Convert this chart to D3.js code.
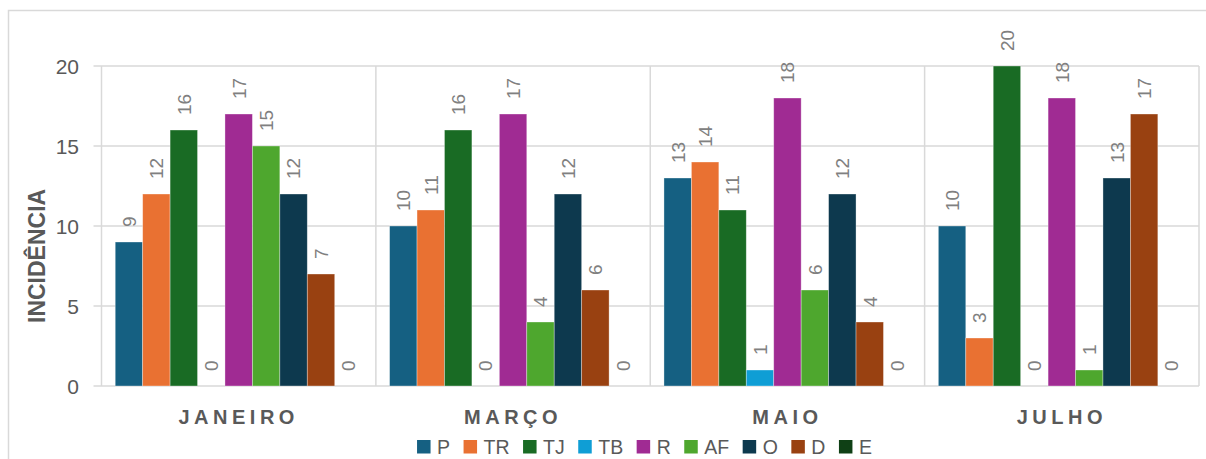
<!DOCTYPE html>
<html>
<head>
<meta charset="utf-8">
<script src="https://cdn.jsdelivr.net/npm/d3@7"></script>
<style>
  html, body { margin: 0; padding: 0; background: #fff; }
  svg { display: block; font-family: "Liberation Sans", Arial, sans-serif; }
</style>
</head>
<body>
<svg id="chart" width="1206" height="459"></svg>
<script>
// Months shown on the x axis
const months = ["JANEIRO", "MARÇO", "MAIO", "JULHO"];
// Series (one bar per series inside each month)
const seriesNames = ["P", "TR", "TJ", "TB", "R", "AF", "O", "D", "E"];
const seriesColors = ["#156082", "#E97132", "#196B24", "#0F9ED5", "#A02B93", "#4EA72E", "#0D394E", "#994111", "#0F4015"];
// Values per series, in month order
const valP  = [9, 10, 13, 10];
const valTR = [12, 11, 14, 3];
const valTJ = [16, 16, 11, 20];
const valTB = [0, 0, 1, 0];
const valR  = [17, 17, 18, 18];
const valAF = [15, 4, 6, 1];
const valO  = [12, 12, 12, 13];
const valD  = [7, 6, 4, 17];
const valE  = [0, 0, 0, 0];
const yTicks = [0, 5, 10, 15, 20];
const yTitle = "INCIDÊNCIA";

const seriesValues = [valP, valTR, valTJ, valTB, valR, valAF, valO, valD, valE];

const svg = d3.select("#chart");
const gridColor = "#d9d9d9";
const textColor = "#595959";

// outer frame
svg.append("rect")
  .attr("x", 8.5).attr("y", 10.5)
  .attr("width", 1300).attr("height", 500)
  .attr("fill", "none").attr("stroke", gridColor).attr("stroke-width", 1.5);

const plotLeft = 101.5, plotRight = 1199, plotTop = 66, plotBottom = 386;

const x0 = d3.scaleBand().domain(months).range([plotLeft, plotRight]).paddingInner(0).paddingOuter(0);
const x1 = d3.scaleBand().domain(seriesNames).range([0, x0.bandwidth()]).paddingOuter(0.5).paddingInner(0);
const y = d3.scaleLinear().domain([0, 20]).range([plotBottom, plotTop]);

// horizontal gridlines
svg.append("g").selectAll("line").data(yTicks).join("line")
  .attr("x1", 93.5).attr("x2", plotRight)
  .attr("y1", d => y(d)).attr("y2", d => y(d))
  .attr("stroke", gridColor).attr("stroke-width", 1.5);

// vertical separators between months
const seps = months.map(m => x0(m)).concat([plotRight]);
svg.append("g").selectAll("line").data(seps).join("line")
  .attr("x1", d => d).attr("x2", d => d)
  .attr("y1", plotTop).attr("y2", plotBottom)
  .attr("stroke", gridColor).attr("stroke-width", 1.5);

// y tick labels
svg.append("g").selectAll("text").data(yTicks).join("text")
  .attr("x", 79).attr("y", d => y(d))
  .attr("dy", "0.36em")
  .attr("text-anchor", "end")
  .attr("font-size", 21)
  .attr("fill", textColor)
  .text(d => d);

// y axis title
svg.append("text")
  .attr("transform", "translate(45,323) rotate(-90)")
  .attr("text-anchor", "start")
  .attr("font-size", 23).attr("font-weight", "bold")
  .attr("fill", textColor)
  .text(yTitle);

// bars and value labels
const flat = [];
months.forEach((m, mi) => {
  seriesNames.forEach((s, si) => {
    flat.push({ month: m, series: s, value: seriesValues[si][mi], color: seriesColors[si] });
  });
});

svg.append("g").selectAll("rect").data(flat).join("rect")
  .attr("x", d => x0(d.month) + x1(d.series))
  .attr("width", x1.bandwidth())
  .attr("y", d => y(d.value))
  .attr("height", d => y(0) - y(d.value))
  .attr("fill", d => d.color)
  .attr("stroke", "#ffffff").attr("stroke-opacity", 0.45).attr("stroke-width", 0.75);

svg.append("g").selectAll("text").data(flat).join("text")
  .attr("transform", d => {
    const cx = x0(d.month) + x1(d.series) + x1.bandwidth() / 2;
    return `translate(${cx},${y(d.value) - 15}) rotate(-90)`;
  })
  .attr("dy", "0.36em")
  .attr("text-anchor", "start")
  .attr("font-size", 19)
  .attr("fill", "#808080")
  .text(d => d.value);

// month labels
svg.append("g").selectAll("text").data(months).join("text")
  .attr("x", d => x0(d) + x0.bandwidth() / 2)
  .attr("y", 424)
  .attr("text-anchor", "middle")
  .attr("font-size", 20).attr("font-weight", "bold")
  .attr("letter-spacing", 4.5)
  .attr("fill", textColor)
  .text(d => d);

// legend
const legend = svg.append("g");
let lx = 0;
seriesNames.forEach((s, i) => {
  const g = legend.append("g").attr("transform", `translate(${lx},0)`);
  g.append("rect").attr("x", 0).attr("y", 440).attr("width", 13.5).attr("height", 13.5).attr("fill", seriesColors[i]);
  const t = g.append("text").attr("x", 20).attr("y", 453.5)
    .attr("font-size", 19.5).attr("fill", textColor).text(s);
  lx += 20 + t.node().getComputedTextLength() + 13.5;
});
const legendWidth = lx - 13.5;
legend.attr("transform", `translate(${644.5 - legendWidth / 2},0)`);
</script>
</body>
</html>
